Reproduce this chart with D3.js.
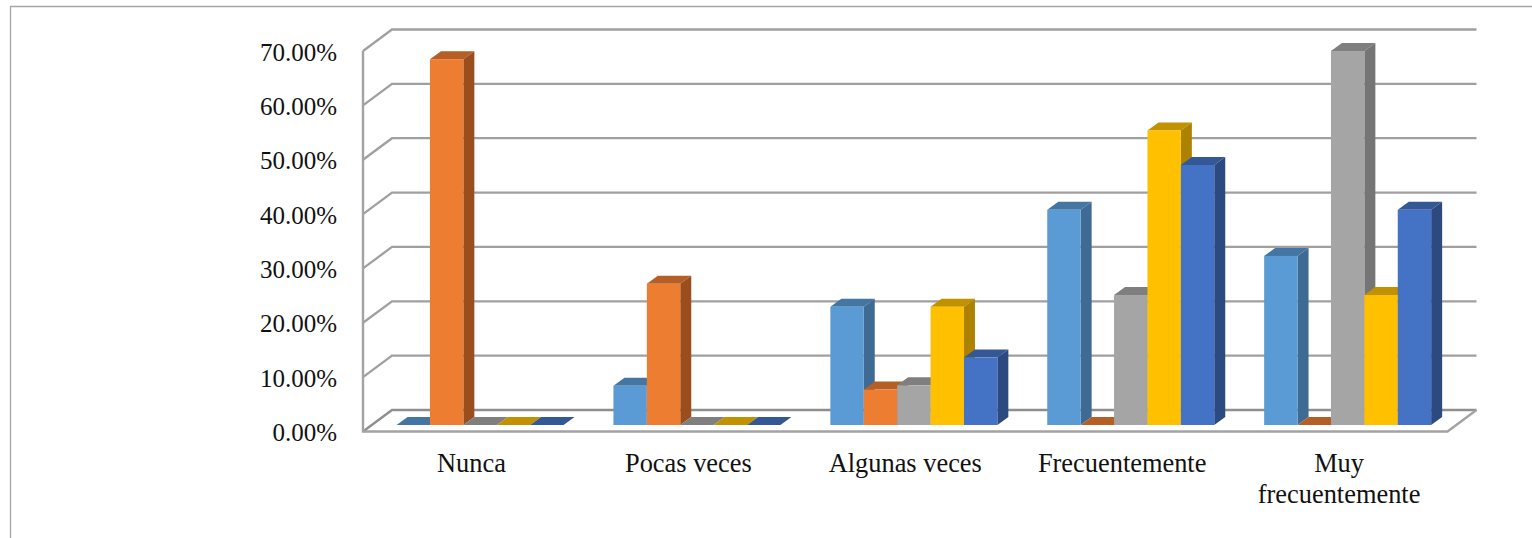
<!DOCTYPE html>
<html>
<head>
<meta charset="utf-8">
<script src="https://cdn.jsdelivr.net/npm/d3@7/dist/d3.min.js"></script>
<style>
html,body{margin:0;padding:0;background:#fff;overflow:hidden}
svg{display:block}
text{font-family:"Liberation Serif",serif;fill:#111}
</style>
</head>
<body>
<svg id="chart" width="1532" height="538"></svg>
<script>
const categories = ["Nunca", "Pocas veces", "Algunas veces", "Frecuentemente", "Muy frecuentemente"];
const seriesA = [0, 7.2, 21.74, 39.6, 31.1];
const seriesB = [67.3, 26.0, 6.52, 0, 0];
const seriesC = [0, 0, 7.3, 23.91, 68.8];
const seriesD = [0, 0, 21.74, 54.2, 23.91];
const seriesE = [0, 0, 12.4, 47.83, 39.6];
const yTicks = [0, 10, 20, 30, 40, 50, 60, 70];

const faceColors = ["#5B9BD5", "#ED7D31", "#A5A5A5", "#FFC000", "#4472C4"];
const topColors = ["#4476A3", "#B55E25", "#7F7F7F", "#C29100", "#345796"];
const sideColors = ["#3E6A93", "#9A4E1E", "#757575", "#AD8200", "#2D4A80"];
const allSeries = [seriesA, seriesB, seriesC, seriesD, seriesE];

const svg = d3.select("#chart");

// Front plane of the chart box and the offset of its back wall
const yFront = d3.scaleLinear().domain([0, 70]).range([431.5, 51]);
const xFront = d3.scaleBand().domain(categories).range([363, 1447.5]);
const wall = {dx: 29, dy: -21.5};
const gridColor = "#a0a0a0";

// Bars stand slightly inside the floor, with a shallower extrusion
const barInset = {dx: 8.6, dy: -6.5};
const barDepth = {dx: 11, dy: -8};
const barSeries = d3.scaleBand().domain(d3.range(allSeries.length))
  .range([0, 167]);
const barGroupLeft = c => xFront(c) + (xFront.bandwidth() - barSeries.range()[1]) / 2 + barInset.dx;
const yBar = v => yFront(v) + barInset.dy;

const pathOf = pts => d3.line()(pts) + "Z";

// Outer chart border, clipped by the page at right and bottom
svg.append("path").attr("d", "M10.5,538V6.5H1532")
  .attr("fill", "none").attr("stroke", "#a6a6a6").attr("stroke-width", 1.3);

// Back-wall gridlines with their diagonal returns to the front axis
const grid = svg.append("g").attr("fill", "none").attr("stroke", gridColor).attr("stroke-width", 2.3);
const xL = xFront.range()[0], xR = xFront.range()[1];
grid.selectAll("path.grid").data(yTicks).join("path")
  .attr("class", "grid")
  .attr("d", t => d3.line()([
    [xL, yFront(t)],
    [xL + wall.dx, yFront(t) + wall.dy],
    [xR + wall.dx, yFront(t) + wall.dy]
  ]))
  .attr("stroke", t => t === 0 ? "#8e8e8e" : gridColor);

// Front edges of the floor and the left wall
grid.append("path").attr("d", d3.line()([
  [xL, yFront(70)],
  [xL, yFront(0)],
  [xR, yFront(0)],
  [xR + wall.dx, yFront(0) + wall.dy]
])).attr("stroke", "#a3a3a3").attr("stroke-width", 2.4);

// Bars: series are drawn left to right so each face covers the side of the one before it
categories.forEach((c, ci) => {
  const g = svg.append("g");
  allSeries.forEach((values, si) => {
    const v = values[ci];
    const x0 = barGroupLeft(c) + barSeries(si);
    const x1 = x0 + barSeries.bandwidth();
    const yT = yBar(v), yB = yBar(0);
    const d = barDepth;
    g.append("path").attr("fill", topColors[si]).attr("d", pathOf([
      [x0, yT], [x1, yT], [x1 + d.dx, yT + d.dy], [x0 + d.dx, yT + d.dy]
    ]));
    if (v > 0) {
      g.append("path").attr("fill", sideColors[si]).attr("d", pathOf([
        [x1, yT], [x1 + d.dx, yT + d.dy], [x1 + d.dx, yB + d.dy], [x1, yB]
      ]));
      g.append("rect").attr("x", x0).attr("y", yT)
        .attr("width", x1 - x0).attr("height", yB - yT)
        .attr("fill", faceColors[si]);
    }
  });
});

// Value axis labels
const yAxis = d3.axisLeft(yFront).tickValues(yTicks)
  .tickSize(0).tickPadding(0).tickFormat(t => t.toFixed(2) + "%");
svg.append("g").attr("transform", "translate(337,1)").call(yAxis)
  .call(g => g.select(".domain").remove())
  .selectAll("text").attr("font-size", 25).style("font-family", '"Liberation Serif",serif').attr("fill", "#111");

// Category labels, wrapped when wider than their slot
const xAxis = d3.axisBottom(xFront).tickSize(0).tickPadding(0);
const xG = svg.append("g").attr("transform", "translate(0,456)").call(xAxis);
xG.select(".domain").remove();
xG.selectAll("text")
  .attr("font-size", 26.4).style("font-family", '"Liberation Serif",serif').attr("fill", "#111")
  .each(function(label) {
    const t = d3.select(this);
    t.text(label);
    t.attr("dy", null).attr("y", 16);
    if (this.getComputedTextLength() <= 200) return;
    t.text(null);
    label.split(" ").forEach((w, i) => {
      t.append("tspan").attr("x", 0).attr("dy", i ? 31 : 0).text(w);
    });
  });
</script>
</body>
</html>
